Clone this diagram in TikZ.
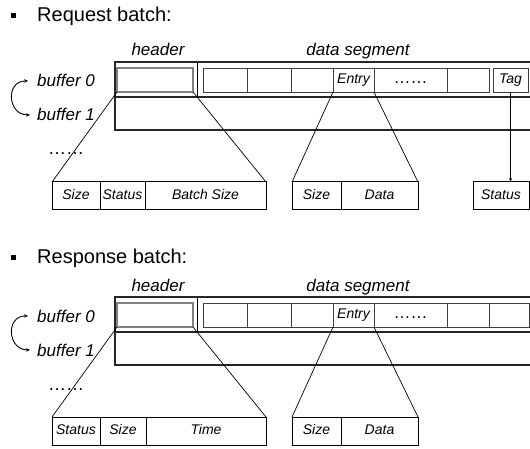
\documentclass[tikz,border=0pt]{standalone}
\usepackage{fontspec}
\setmainfont{Liberation Sans}
\usetikzlibrary{arrows.meta,positioning}
\tikzset{
  cell/.style={draw=cellc,line width=0.9pt,minimum height=24pt,inner sep=0pt,outer sep=0pt,
    anchor=north west,font=\fontsize{14}{16}\selectfont\itshape,text height=10pt,text depth=3pt},
  hdrbox/.style={draw=hdrc,line width=1.6pt,minimum height=24pt,minimum width=76pt,
    inner sep=0pt,outer sep=0pt,anchor=north west},
  xcell/.style={draw,line width=1pt,minimum height=28pt,inner sep=0pt,outer sep=0pt,
    anchor=north west,font=\fontsize{14}{16}\selectfont\itshape,text height=10pt,text depth=3pt},
  lbl/.style={inner sep=0pt,anchor=base,font=\fontsize{17}{20}\selectfont\itshape},
  title/.style={inner sep=0pt,anchor=base west,font=\fontsize{20}{24}\selectfont},
  frame/.style={line width=1.5pt,draw=black!85},
  zoomline/.style={line width=0.7pt},
  swap/.style={line width=0.9pt,{Stealth[length=4pt,width=3.5pt]}-{Stealth[length=4pt,width=3.5pt]}}
}
\begin{document}
\begin{tikzpicture}[x=1pt,y=-1pt]
                \colorlet{cellc}{black!75}
                \colorlet{hdrc}{black!50}
                \useasboundingbox (0,0) rectangle (530,449);

                % request batch
                \node [fill,minimum size=5pt,inner sep=0pt] (qb) at (13.5,15.5) {};
                \node [title] (qt) at (37,22) {Request batch:};
                \node [lbl] (qh) at (158,56) {header};
                \node [lbl] (qd) at (358,56) {data segment};
                \node [lbl,anchor=base west] (q0) at (37,87) {buffer 0};
                \node [lbl,anchor=base west] (q1) at (37,121) {buffer 1};
                \node [lbl,font=\fontsize{18}{20}\selectfont] (qdots) at (66,155) {……};
                \draw [swap] ([xshift=-9pt]q0.west)
                    to [out=180,in=180,looseness=1.7] ([xshift=-7pt]q1.west);

                \draw [frame] (531,62) -| (115,130) -- (531,130);
                \draw [frame] (115,97) -- (531,97);
                \draw [line width=1pt] (197,62) -- (197,97);

                \node [hdrbox] (qhdr) at (117,68) {};
                \node [cell,minimum width=44pt] (qc1) at (203,68) {};
                \node [cell,minimum width=44pt] (qc2) at (247,68) {};
                \node [cell,minimum width=42pt] (qc3) at (291,68) {};
                \node [cell,minimum width=41pt] (qent) at (333,68) {Entry};
                \node [cell,minimum width=73pt,font=\fontsize{17}{16}\selectfont] (qc5) at (374,68) {……};
                \node [cell,minimum width=42pt] (qc6) at (447,68) {};
                \node [cell,minimum width=35pt] (qtag) at (493,68) {Tag};

                \node [xcell,minimum width=48pt] (qs1) at (52,182) {Size};
                \node [xcell,minimum width=45pt] (qs2) at (100,182) {Status};
                \node [xcell,minimum width=121pt] (qs3) at (145,182) {Batch Size};
                \node [xcell,minimum width=49pt] (qe1) at (292,182) {Size};
                \node [xcell,minimum width=77pt] (qe2) at (341,182) {Data};
                \node [xcell,minimum width=56pt] (qst) at (473,182) {Status};

                \draw [zoomline] (qhdr.south west) -- (qs1.north west);
                \draw [zoomline] (qhdr.south east) -- (qs3.north east);
                \draw [zoomline] (qent.south west) -- (qe1.north west);
                \draw [zoomline] (qent.south east) -- (qe2.north east);
                \draw [zoomline,-{Stealth[length=4pt,width=3pt]}] (qtag.south) -- (qtag.south |- qst.north);

                % response batch
                \node [fill,minimum size=5pt,inner sep=0pt] (sb) at (13.5,257) {};
                \node [title] (st) at (37,263) {Response batch:};
                \node [lbl] (sh) at (158,291) {header};
                \node [lbl] (sd) at (358,291) {data segment};
                \node [lbl,anchor=base west] (s0) at (37,322) {buffer 0};
                \node [lbl,anchor=base west] (s1) at (37,356) {buffer 1};
                \node [lbl,font=\fontsize{18}{20}\selectfont] (sdots) at (66,390) {……};
                \draw [swap] ([xshift=-9pt]s0.west)
                    to [out=180,in=180,looseness=1.7] ([xshift=-7pt]s1.west);

                \draw [frame] (531,297) -| (115,365) -- (531,365);
                \draw [frame] (115,332) -- (531,332);
                \draw [line width=1pt] (197,297) -- (197,332);

                \node [hdrbox] (shdr) at (117,303) {};
                \node [cell,minimum width=44pt] (sc1) at (203,303) {};
                \node [cell,minimum width=44pt] (sc2) at (247,303) {};
                \node [cell,minimum width=42pt] (sc3) at (291,303) {};
                \node [cell,minimum width=41pt] (sent) at (333,303) {Entry};
                \node [cell,minimum width=73pt,font=\fontsize{17}{16}\selectfont] (sc5) at (374,303) {……};
                \node [cell,minimum width=42pt] (sc6) at (447,303) {};
                \node [cell,minimum width=40pt] (sc7) at (489,303) {};

                \node [xcell,minimum width=48pt] (ss1) at (52,417) {Status};
                \node [xcell,minimum width=46pt] (ss2) at (100,417) {Size};
                \node [xcell,minimum width=120pt] (ss3) at (146,417) {Time};
                \node [xcell,minimum width=49pt] (se1) at (292,417) {Size};
                \node [xcell,minimum width=77pt] (se2) at (341,417) {Data};

                \draw [zoomline] (shdr.south west) -- (ss1.north west);
                \draw [zoomline] (shdr.south east) -- (ss3.north east);
                \draw [zoomline] (sent.south west) -- (se1.north west);
                \draw [zoomline] (sent.south east) -- (se2.north east);
            \end{tikzpicture}
\end{document}
